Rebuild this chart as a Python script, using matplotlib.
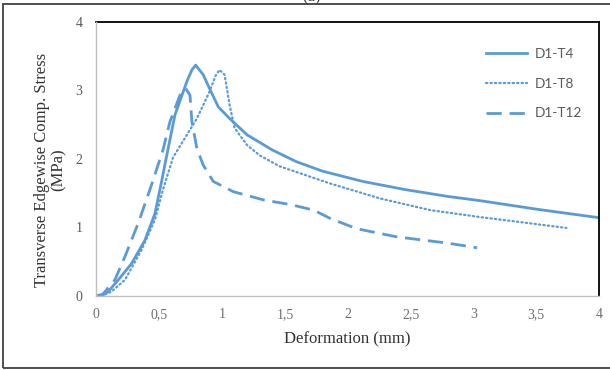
import numpy as np
import matplotlib
matplotlib.use("Agg")
import matplotlib.pyplot as plt
from matplotlib.patches import Rectangle

# Deformation (mm) / stress (MPa)
t4_x = [0, 0.05, 0.094, 0.174, 0.28, 0.386, 0.466, 0.52, 0.56, 0.625, 0.72, 0.76,
        0.79, 0.85, 0.90, 0.97, 1.06, 1.20, 1.40, 1.59, 1.80, 2.12, 2.46, 2.80,
        3.05, 3.52, 4.0]
t4_y = [0, 0.01, 0.06, 0.23, 0.47, 0.81, 1.20, 1.68, 2.05, 2.64, 3.13, 3.30,
        3.37, 3.23, 3.03, 2.76, 2.59, 2.35, 2.13, 1.96, 1.82, 1.67, 1.55, 1.45,
        1.39, 1.26, 1.14]

t8_x = [0, 0.06, 0.12, 0.227, 0.36, 0.466, 0.53, 0.61, 0.72, 0.80, 0.90, 0.95,
        0.98, 1.02, 1.06, 1.10, 1.20, 1.30, 1.46, 1.86, 2.26, 2.66, 3.05, 3.40,
        3.74]
t8_y = [0, 0.01, 0.06, 0.23, 0.67, 1.11, 1.55, 2.02, 2.35, 2.59, 2.98, 3.22,
        3.30, 3.23, 2.79, 2.45, 2.20, 2.05, 1.89, 1.64, 1.42, 1.25, 1.15, 1.07,
        0.99]

t12_x = [0, 0.05, 0.147, 0.227, 0.333, 0.426, 0.48, 0.53, 0.585, 0.665, 0.71,
         0.745, 0.76, 0.80, 0.85, 0.93, 1.09, 1.33, 1.55, 1.73, 1.86, 2.07, 2.39,
         2.79, 3.03]
t12_y = [0, 0.02, 0.23, 0.57, 1.06, 1.55, 1.85, 2.13, 2.54, 2.93, 3.03, 2.93,
         2.54, 2.15, 1.91, 1.67, 1.52, 1.40, 1.33, 1.25, 1.13, 0.98, 0.86, 0.77,
         0.70]

x_ticks = [0, 0.5, 1, 1.5, 2, 2.5, 3, 3.5, 4]
x_ticklabels = ["0", "0,5", "1", "1,5", "2", "2,5", "3", "3,5", "4"]
y_ticks = [0, 1, 2, 3, 4]

blue = "#5B9BD5"
grey = "#595959"
serif = "Liberation Serif"

fig = plt.figure(figsize=(6.1, 3.7), dpi=100)
ax = fig.add_axes([0.158, 0.2008, 0.824, 0.7397])

ax.plot(t4_x, t4_y, color=blue, lw=2.0, label="D1-T4")
ax.plot(t8_x, t8_y, color=blue, lw=1.6, linestyle=(0, (0.6, 1.4)),
        dash_capstyle="round", label="D1-T8")
ax.plot(t12_x, t12_y, color=blue, lw=2.0, linestyle=(0, (5.5, 2.8)),
        label="D1-T12")

ax.set_xlim(0, 4)
ax.set_ylim(0, 4)
ax.set_xticks(x_ticks)
ax.set_xticklabels(x_ticklabels)
ax.set_yticks(y_ticks)
ax.tick_params(axis="x", length=0, pad=9, labelsize=10, labelcolor="#6E6E6E")
ax.tick_params(axis="y", length=0, pad=10, labelsize=10, labelcolor=grey)
for lab in ax.get_xticklabels() + ax.get_yticklabels():
    lab.set_fontfamily(serif)

for s in ["left", "bottom"]:
    ax.spines[s].set_color("#BFBFBF")
    ax.spines[s].set_linewidth(1.0)
    ax.spines[s].set_zorder(3)
for s in ["top", "right"]:
    ax.spines[s].set_color("black")
    ax.spines[s].set_linewidth(1.3)

ax.set_xlabel("Deformation (mm)", fontsize=12, family=serif, color="#333333")
ax.xaxis.set_label_coords(0.5, -0.13)
ax.set_ylabel("Transverse Edgewise Comp. Stress\n(MPa)", fontsize=12,
              family=serif, color="#333333", linespacing=1.1)
ax.yaxis.set_label_coords(-0.059, 0.46)

leg = ax.legend(loc="upper left", bbox_to_anchor=(0.765, 0.925), frameon=False,
                prop={"family": "Lato", "size": 9.8}, handlelength=3.0,
                labelspacing=1.3, handletextpad=0.55, borderaxespad=0)
for t in leg.get_texts():
    t.set_color(grey)

# outer chart border
fig.patches.append(Rectangle((3 / 610, 2 / 370), 1.0, 364 / 370,
                             transform=fig.transFigure, fill=False,
                             edgecolor="#404040", lw=1.3))
# caption cut at the top edge
fig.text(312 / 610, 1 - 1 / 370, "(a)", ha="center", va="baseline",
         fontsize=12, family=serif, color="#404040")

fig.savefig("out.png", dpi=100)
